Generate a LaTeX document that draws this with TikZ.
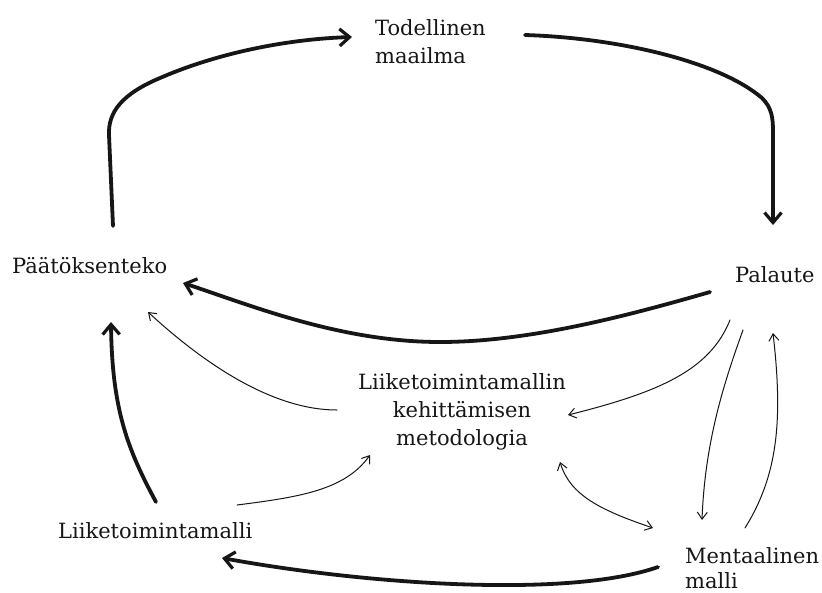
\documentclass[tikz,border=0pt]{standalone}
\usepackage{fontspec}
\setmainfont{DejaVu Serif}
\usetikzlibrary{arrows.meta}
\definecolor{ink}{HTML}{161616}
\tikzset{
  lbl/.style={inner sep=0pt, text=ink, font=\fontsize{21}{28}\selectfont},
  heavy/.style={draw=ink, line width=3.8pt, line cap=round,
    -{Straight Barb[length=10pt,width=17pt,line width=3.2pt]}},
  light/.style={draw=ink, line width=1pt, line cap=round,
    -{Straight Barb[length=7pt,width=10pt,line width=1pt]}},
  lighttwo/.style={draw=ink, line width=1pt, line cap=round,
    {Straight Barb[length=7pt,width=10pt,line width=1pt]}-{Straight Barb[length=7pt,width=10pt,line width=1pt]}}
}
\begin{document}
\begin{tikzpicture}[x=1pt,y=-1pt]
\useasboundingbox[fill=white] (0,0) rectangle (822,592);

% labels (base anchor of a multi-line label sits on its last line)
\node[lbl, anchor=base west, align=left] (world) at (375,63) {Todellinen\\maailma};
\node[lbl, anchor=base west] (decision) at (12,273) {Päätöksenteko};
\node[lbl, anchor=base west] (feedback) at (735,282) {Palaute};
\node[lbl, anchor=base, align=center] (method) at (462,445) {Liiketoimintamallin\\kehittämisen\\metodologia};
\node[lbl, anchor=base west] (bmodel) at (58,538) {Liiketoimintamalli};
\node[lbl, anchor=base west, align=left, font=\fontsize{21}{25}\selectfont] (mental) at (685,588) {Mentaalinen\\malli};

% connector end points
\coordinate (dUp)   at (113,226);
\coordinate (wIn)   at (352,37);
\coordinate (wOut)  at (525,35);
\coordinate (fIn)   at (773,225);
\coordinate (fOut)  at (710,292);
\coordinate (dIn)   at (183,283);
\coordinate (bOut)  at (156,502);
\coordinate (dInB)  at (111,322);
\coordinate (mOut)  at (658,567);
\coordinate (bIn)   at (222,558);
\coordinate (meOut) at (337,410);
\coordinate (dInC)  at (148,312);
\coordinate (fOutA) at (730,320);
\coordinate (meIn)  at (568,415);
\coordinate (fOutB) at (743,330);
\coordinate (mIn)   at (702,520);
\coordinate (mOutB) at (745,528);
\coordinate (fIn2)  at (773,333);
\coordinate (meEnd) at (560,462);
\coordinate (mEnd)  at (653,528);
\coordinate (bOutB) at (237,505);
\coordinate (meInB) at (370,455);

% main cycle
\draw[heavy] (dUp) -- (109,135) .. controls (108,112) and (122,94) .. (160,78)
  .. controls (220,52) and (290,39) .. (wIn);
\draw[heavy] (wOut) .. controls (620,38) and (720,62) .. (762,98)
  .. controls (772,108) and (773,118) .. (773,132) -- (fIn);
\draw[heavy] (fOut) .. controls (630,315) and (530,342) .. (440,342)
  .. controls (340,342) and (250,305) .. (dIn);
\draw[heavy] (bOut) .. controls (128,450) and (112,410) .. (dInB);
\draw[heavy] (mOut) .. controls (570,598) and (370,585) .. (bIn);

% thin links
\draw[light] (meOut) .. controls (270,410) and (200,360) .. (dInC);
\draw[light] (fOutA) .. controls (710,370) and (660,392) .. (meIn);
\draw[light] (fOutB) .. controls (725,380) and (705,440) .. (mIn);
\draw[light] (mOutB) .. controls (778,475) and (783,420) .. (fIn2);
\draw[lighttwo] (meEnd) .. controls (570,495) and (600,510) .. (mEnd);
\draw[light] (bOutB) .. controls (300,497) and (345,490) .. (meInB);
\end{tikzpicture}
\end{document}
